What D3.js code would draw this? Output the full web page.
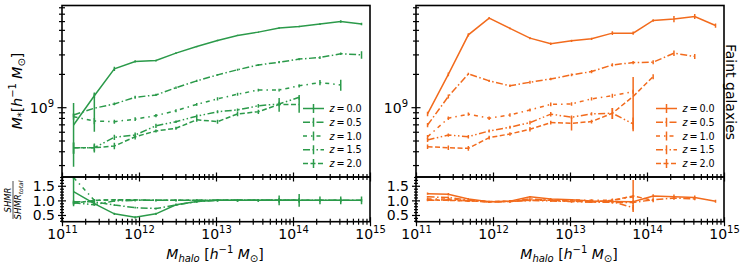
<!DOCTYPE html>
<html>
<head>
<meta charset="utf-8">
<script src="https://cdn.jsdelivr.net/npm/d3@7"></script>
<style>
  body { margin: 0; background: #fff; }
  text { font-family: 'DejaVu Sans', sans-serif; fill: #000; }
</style>
</head>
<body>
<svg id="chart" width="748" height="269"></svg>
<script>
// halo mass bin centres [h^-1 Msun]
var haloMass = [1.413e11, 2.630e11, 4.786e11, 8.913e11, 1.660e12, 3.020e12, 5.623e12, 1.047e13,
  1.905e13, 3.548e13, 6.607e13, 1.202e14, 2.239e14, 4.169e14, 7.762e14]
var redshifts = ['0.0', '0.5', '1.0', '1.5', '2.0']

// stellar mass [1e9 h^-1 Msun] - left panel (all galaxies)
var allZ00 = [0.69, 1.27, 2.22, 2.59, 2.64, 3.08, 3.53, 4.00, 4.45, 4.77, 5.19, 5.37, 5.64, 5.95, 5.64]
var allZ05 = [0.85, 0.98, 1.07, 1.23, 1.29, 1.50, 1.73, 1.96, 2.18, 2.41, 2.55, 2.72, 2.81, 3.04, 2.97]
var allZ10 = [0.82, 0.75, 0.74, 0.78, 0.84, 0.93, 1.06, 1.19, 1.31, 1.43, 1.43, 1.56, 1.67, 1.59]
var allZ15 = [0.43, 0.43, 0.535, 0.56, 0.68, 0.74, 0.83, 0.91, 0.945, 1.03, 1.07, 1.23]
var allZ20 = [0.43, 0.43, 0.446, 0.54, 0.61, 0.645, 0.77, 0.74, 0.87, 0.91, 1.06, 1.06]
var allErr00 = [0.40, 0.06, 0.10, 0.06, 0.05, 0.05, 0.05, 0.06, 0.06, 0.07, 0.08, 0.08, 0.10, 0.15, 0.15]
var allErr05 = [0.03, 0.38, 0.03, 0.04, 0.03, 0.04, 0.04, 0.04, 0.05, 0.05, 0.06, 0.06, 0.08, 0.08, 0.23]
var allErr10 = [0.05, 0.05, 0.03, 0.03, 0.03, 0.03, 0.03, 0.04, 0.04, 0.04, 0.04, 0.05, 0.09, 0.18]
var allErr15 = [0.05, 0.03, 0.03, 0.03, 0.03, 0.02, 0.03, 0.03, 0.03, 0.04, 0.05, 0.06]
var allErr20 = [0.05, 0.04, 0.03, 0.03, 0.02, 0.02, 0.03, 0.03, 0.04, 0.04, 0.15, 0.17]

// stellar mass [1e9 h^-1 Msun] - right panel (faint galaxies)
var faintZ00 = [0.87, 1.98, 4.51, 6.39, 5.16, 4.21, 3.74, 3.98, 4.15, 4.67, 4.67, 6.08, 6.26, 6.61, 5.47]
var faintZ05 = [0.69, 1.25, 2.00, 1.73, 1.56, 1.68, 1.80, 1.96, 2.10, 2.41, 2.53, 2.55, 3.08, 2.87]
var faintZ10 = [0.54, 0.795, 0.865, 0.795, 0.85, 0.945, 1.06, 1.07, 1.19, 1.27, 1.38]
var faintZ15 = [0.506, 0.56, 0.542, 0.61, 0.66, 0.726, 0.865, 0.812, 0.87, 0.882, 0.706]
var faintZ20 = [0.44, 0.43, 0.425, 0.531, 0.573, 0.632, 0.726, 0.716, 0.741, 0.882, 1.25, 1.89]
var faintErr00 = [0.04, 0.08, 0.15, 0.15, 0.10, 0.10, 0.10, 0.10, 0.10, 0.18, 0.15, 0.15, 0.40, 0.35, 0.25]
var faintErr05 = [0.03, 0.05, 0.05, 0.04, 0.04, 0.05, 0.05, 0.06, 0.07, 0.08, 0.09, 0.10, 0.18, 0.15]
var faintErr10 = [0.02, 0.03, 0.03, 0.03, 0.03, 0.03, 0.04, 0.04, 0.04, 0.05, 0.06]
var faintErr15 = [0.02, 0.02, 0.02, 0.02, 0.02, 0.03, 0.04, 0.03, 0.03, 0.10, 0.10]
var faintErr20 = [0.02, 0.02, 0.02, 0.02, 0.02, 0.03, 0.03, 0.10, 0.03, 0.10, 0.62, 0.10]

// SHMR / SHMR_total
var allRatio00 = [1.30, 0.89, 0.54, 0.42, 0.54, 0.85, 0.96, 1.0, 1.0, 1.0, 1.0, 1.0, 1.0, 1.0, 1.0]
var allRatio05 = [0.95, 0.95, 0.84, 0.75, 0.72, 0.84, 0.96, 1.0, 1.0, 1.0, 1.0, 1.0, 1.0, 1.0, 1.0]
var allRatio10 = [1.78, 1.0, 1.02, 1.0, 1.0, 1.0, 1.0, 1.0, 1.0, 1.0, 1.0, 1.0, 1.0, 1.0]
var allRatio15 = [0.92, 0.85, 0.98, 1.0, 1.0, 1.0, 1.0, 1.0, 1.0, 1.0, 1.0, 1.0]
var allRatio20 = [0.90, 1.0, 1.02, 1.02, 1.0, 1.0, 1.0, 1.0, 1.0, 1.0, 1.0, 1.0]
var allRatioErr00 = [0.50, 0.06, 0.04, 0.04, 0.04, 0.04, 0.04, 0.04, 0.05, 0.05, 0.17, 0.22, 0.13, 0.13, 0.13]
var allRatioErr05 = [0.05, 0.10, 0.03, 0.03, 0.03, 0.03, 0.03, 0.03, 0.03, 0.03, 0.03, 0.03, 0.03, 0.03, 0.05]
var allRatioErr10 = [0.05, 0.04, 0.03, 0.03, 0.03, 0.03, 0.03, 0.03, 0.03, 0.03, 0.03, 0.03, 0.04, 0.06]
var allRatioErr15 = [0.05, 0.03, 0.03, 0.03, 0.03, 0.03, 0.03, 0.03, 0.03, 0.03, 0.04, 0.04]
var allRatioErr20 = [0.05, 0.03, 0.03, 0.03, 0.03, 0.03, 0.03, 0.03, 0.03, 0.03, 0.08, 0.08]

var faintRatio00 = [1.23, 1.21, 1.05, 0.95, 0.97, 1.12, 1.05, 1.02, 0.98, 0.96, 0.95, 1.15, 1.12, 1.10, 0.97]
var faintRatio05 = [1.12, 1.10, 1.0, 0.95, 0.96, 1.05, 1.0, 0.97, 0.95, 0.93, 0.93, 1.02, 1.08, 1.05]
var faintRatio10 = [1.05, 1.05, 1.0, 0.95, 0.97, 1.0, 1.02, 1.02, 1.0, 1.0, 1.12]
var faintRatio15 = [1.0, 1.02, 0.98, 0.95, 0.96, 1.0, 0.98, 0.96, 0.94, 0.96, 0.75]
var faintRatio20 = [1.02, 1.0, 0.98, 0.96, 0.97, 1.0, 1.0, 0.98, 0.95, 1.0, 1.15, 1.0]
var faintRatioErr00 = [0.04, 0.04, 0.03, 0.03, 0.03, 0.03, 0.03, 0.03, 0.04, 0.04, 0.05, 0.06, 0.08, 0.07, 0.05]
var faintRatioErr05 = [0.03, 0.03, 0.03, 0.03, 0.03, 0.03, 0.03, 0.03, 0.03, 0.04, 0.05, 0.05, 0.06, 0.05]
var faintRatioErr10 = [0.03, 0.03, 0.03, 0.03, 0.03, 0.03, 0.03, 0.03, 0.03, 0.04, 0.06]
var faintRatioErr15 = [0.03, 0.03, 0.03, 0.03, 0.03, 0.03, 0.03, 0.03, 0.03, 0.06, 0.10]
var faintRatioErr20 = [0.03, 0.03, 0.03, 0.03, 0.03, 0.03, 0.03, 0.05, 0.03, 0.06, 0.55, 0.06]

// ticks
var xMajorTicks = [1e11, 1e12, 1e13, 1e14, 1e15]
var xTickExponents = ['11', '12', '13', '14', '15']
var yTopMajorTicks = [1e9]
var yBotMajorTicks = [0.5, 1.0, 1.5]
var yBotTickLabels = ['0.5', '1.0', '1.5']

// layout
var topY0 = 5.5, topY1 = 177, botY1 = 221.7
var panels = [
  { x0: 62, x1: 370, color: '#2b9a4a',
    mstar: [allZ00, allZ05, allZ10, allZ15, allZ20],
    mstarErr: [allErr00, allErr05, allErr10, allErr15, allErr20],
    ratio: [allRatio00, allRatio05, allRatio10, allRatio15, allRatio20],
    ratioErr: [allRatioErr00, allRatioErr05, allRatioErr10, allRatioErr15, allRatioErr20],
    legendX: 303 },
  { x0: 416, x1: 724, color: '#f26b1d',
    mstar: [faintZ00, faintZ05, faintZ10, faintZ15, faintZ20],
    mstarErr: [faintErr00, faintErr05, faintErr10, faintErr15, faintErr20],
    ratio: [faintRatio00, faintRatio05, faintRatio10, faintRatio15, faintRatio20],
    ratioErr: [faintRatioErr00, faintRatioErr05, faintRatioErr10, faintRatioErr15, faintRatioErr20],
    legendX: 656 }
]
var dashes = [null, '7,2.5,1.5,2.5', '4,4,1.5,4', '7,2.5,1.5,2.5,1.5,2.5', '5,2.5']

var svg = d3.select('#chart')
var yTop = d3.scaleLog().domain([2.34e8, 8.3e9]).range([topY1, topY0])
var yBot = d3.scaleLinear().domain([0.27, 1.8]).range([botY1, topY1])

var xMinorTicks = []
for (var e = 11; e < 15; e++) for (var m = 2; m <= 9; m++) xMinorTicks.push(m * Math.pow(10, e))
var yTopMinorTicks = [3e8, 4e8, 5e8, 6e8, 7e8, 8e8, 9e8, 2e9, 3e9, 4e9, 5e9, 6e9, 7e9, 8e9]
var yBotMinorTicks = d3.range(3, 19).map(function (v) { return v / 10 })
  .filter(function (v) { return yBotMajorTicks.indexOf(v) < 0 })

function inout (sel, len, orient) {
  sel.select('.domain').remove()
  var lines = sel.selectAll('.tick line').attr('stroke', '#000').attr('stroke-width', 1.2)
  if (orient === 'bottom') lines.attr('y1', -len / 2).attr('y2', len / 2)
  else lines.attr('x1', len / 2).attr('x2', -len / 2)
}

function supLabel (text, base, exp) {
  text.text(null)
  text.append('tspan').text(base)
  text.append('tspan').attr('font-size', 10).attr('dy', -6).text(exp)
}

var blank = function () { return '' }

panels.forEach(function (p, pi) {
  var x = d3.scaleLog().domain([1e11, 1e15]).range([p.x0, p.x1])
  var g = svg.append('g')

  g.append('clipPath').attr('id', 'clipTop' + pi).append('rect')
    .attr('x', p.x0).attr('y', topY0).attr('width', p.x1 - p.x0).attr('height', topY1 - topY0)
  g.append('clipPath').attr('id', 'clipBot' + pi).append('rect')
    .attr('x', p.x0).attr('y', topY1).attr('width', p.x1 - p.x0).attr('height', botY1 - topY1)

  var top = g.append('g').attr('clip-path', 'url(#clipTop' + pi + ')')
  var bot = g.append('g').attr('clip-path', 'url(#clipBot' + pi + ')')

  var lineTop = d3.line()
    .x(function (d, i) { return x(haloMass[i]) })
    .y(function (d) { return yTop(d * 1e9) })
  var lineBot = d3.line()
    .x(function (d, i) { return x(haloMass[i]) })
    .y(function (d) { return yBot(d) })

  p.mstar.forEach(function (s, si) {
    top.append('path').datum(s).attr('d', lineTop)
      .attr('fill', 'none').attr('stroke', p.color).attr('stroke-width', 1.5)
      .attr('stroke-dasharray', dashes[si])
    top.selectAll('.eb' + si).data(s).enter().append('line')
      .attr('x1', function (d, i) { return x(haloMass[i]) })
      .attr('x2', function (d, i) { return x(haloMass[i]) })
      .attr('y1', function (d, i) {
        var lo = d - p.mstarErr[si][i]
        return lo > 0 ? yTop(lo * 1e9) : topY1 + 5
      })
      .attr('y2', function (d, i) { return yTop((d + p.mstarErr[si][i]) * 1e9) })
      .attr('stroke', p.color).attr('stroke-width', 1.5)

    bot.append('path').datum(p.ratio[si]).attr('d', lineBot)
      .attr('fill', 'none').attr('stroke', p.color).attr('stroke-width', 1.5)
      .attr('stroke-dasharray', dashes[si])
    bot.selectAll('.rb' + si).data(p.ratio[si]).enter().append('line')
      .attr('x1', function (d, i) { return x(haloMass[i]) })
      .attr('x2', function (d, i) { return x(haloMass[i]) })
      .attr('y1', function (d, i) { return yBot(d - p.ratioErr[si][i]) })
      .attr('y2', function (d, i) { return yBot(d + p.ratioErr[si][i]) })
      .attr('stroke', p.color).attr('stroke-width', 1.5)
  })

  // frames
  g.append('rect').attr('x', p.x0).attr('y', topY0).attr('width', p.x1 - p.x0).attr('height', topY1 - topY0)
    .attr('fill', 'none').attr('stroke', '#000').attr('stroke-width', 1.6)
  g.append('rect').attr('x', p.x0).attr('y', topY1).attr('width', p.x1 - p.x0).attr('height', botY1 - topY1)
    .attr('fill', 'none').attr('stroke', '#000').attr('stroke-width', 1.6)

  // x ticks
  ;[topY1, botY1].forEach(function (yy, k) {
    g.append('g').attr('transform', 'translate(0,' + yy + ')')
      .call(d3.axisBottom(x).tickValues(xMinorTicks).tickSize(6).tickFormat(blank))
      .call(inout, 6, 'bottom')
    var gm = g.append('g').attr('transform', 'translate(0,' + yy + ')')
      .call(d3.axisBottom(x).tickValues(xMajorTicks).tickSize(9).tickFormat(blank))
      .call(inout, 9, 'bottom')
    if (k === 0) gm.selectAll('.tick text').remove()
    else {
      gm.selectAll('.tick text').attr('y', 17.5).attr('dy', null)
        .attr('font-size', 14).attr('font-family', 'DejaVu Sans').attr('fill', '#000')
        .each(function (d, i) { supLabel(d3.select(this), '10', xTickExponents[i]) })
    }
  })

  // y ticks, top panel
  g.append('g').attr('transform', 'translate(' + p.x0 + ',0)')
    .call(d3.axisLeft(yTop).tickValues(yTopMinorTicks).tickSize(6).tickFormat(blank))
    .call(inout, 6, 'left')
  g.append('g').attr('transform', 'translate(' + p.x0 + ',0)')
    .call(d3.axisLeft(yTop).tickValues(yTopMajorTicks).tickSize(9).tickFormat(blank))
    .call(inout, 9, 'left')
    .selectAll('.tick text').attr('x', -8).attr('y', 5).attr('dy', null)
    .attr('font-size', 14).attr('font-family', 'DejaVu Sans').attr('fill', '#000')
    .each(function () { supLabel(d3.select(this), '10', '9') })

  // y ticks, ratio panel
  g.append('g').attr('transform', 'translate(' + p.x0 + ',0)')
    .call(d3.axisLeft(yBot).tickValues(yBotMinorTicks).tickSize(4).tickFormat(blank))
    .call(inout, 4, 'left')
  g.append('g').attr('transform', 'translate(' + p.x0 + ',0)')
    .call(d3.axisLeft(yBot).tickValues(yBotMajorTicks).tickSize(8)
      .tickFormat(function (d, i) { return yBotTickLabels[i] }))
    .call(inout, 8, 'left')
    .selectAll('.tick text').attr('x', -7).attr('y', 5).attr('dy', null)
    .attr('font-size', 14).attr('font-family', 'DejaVu Sans').attr('fill', '#000')

  // legend
  var leg = g.append('g')
  redshifts.forEach(function (z, si) {
    var yy = 108.5 + si * 13.75
    leg.append('line').attr('x1', p.legendX).attr('x2', p.legendX + 21).attr('y1', yy).attr('y2', yy)
      .attr('stroke', p.color).attr('stroke-width', 1.5).attr('stroke-dasharray', dashes[si])
    leg.append('line').attr('x1', p.legendX + 10.5).attr('x2', p.legendX + 10.5)
      .attr('y1', yy - 4.5).attr('y2', yy + 4.5)
      .attr('stroke', p.color).attr('stroke-width', 1.5)
    var t = leg.append('text').attr('x', p.legendX + 26.5).attr('y', yy + 3.5).attr('font-size', 9.6)
    t.append('tspan').attr('font-style', 'italic').text('z')
    t.append('tspan').text('\u2009=\u2009' + z)
  })

  // x label
  var xl = g.append('text').attr('x', (p.x0 + p.x1) / 2 - 1).attr('y', 259)
    .attr('text-anchor', 'middle').attr('font-size', 14)
  xl.append('tspan').attr('font-style', 'italic').text('M')
  xl.append('tspan').attr('font-style', 'italic').attr('font-size', 10).attr('dy', 3).text('halo')
  xl.append('tspan').attr('dy', -3).text(' [')
  xl.append('tspan').attr('font-style', 'italic').text('h')
  xl.append('tspan').attr('font-size', 10).attr('dy', -6).text('\u22121')
  xl.append('tspan').attr('dy', 6).text(' ')
  xl.append('tspan').attr('font-style', 'italic').text('M')
  xl.append('tspan').attr('font-size', 10).attr('dy', 3).text('\u2299')
  xl.append('tspan').attr('dy', -3).text(']')
})

// y label, top
var yl = svg.append('text').attr('transform', 'translate(22,91) rotate(-90)')
  .attr('text-anchor', 'middle').attr('font-size', 14)
yl.append('tspan').attr('font-style', 'italic').text('M')
yl.append('tspan').attr('font-size', 10).attr('dy', 3).text('*')
yl.append('tspan').attr('dy', -3).text('[')
yl.append('tspan').attr('font-style', 'italic').text('h')
yl.append('tspan').attr('font-size', 10).attr('dy', -6).text('\u22121')
yl.append('tspan').attr('dy', 6).text(' ')
yl.append('tspan').attr('font-style', 'italic').text('M')
yl.append('tspan').attr('font-size', 10).attr('dy', 3).text('\u2299')
yl.append('tspan').attr('dy', -3).text(']')

// y label, ratio (fraction)
var fr = svg.append('g').attr('transform', 'translate(13,200) rotate(-90)')
fr.append('text').attr('x', 0).attr('y', -2).attr('text-anchor', 'middle')
  .attr('font-size', 8.5).attr('font-style', 'italic').text('SHMR')
fr.append('line').attr('x1', -19).attr('x2', 19).attr('y1', 0).attr('y2', 0)
  .attr('stroke', '#000').attr('stroke-width', 0.7)
var den = fr.append('text').attr('x', 0).attr('y', 8.2).attr('text-anchor', 'middle')
  .attr('font-size', 8.5).attr('font-style', 'italic')
den.append('tspan').text('SHMR')
den.append('tspan').attr('font-size', 6).attr('dy', 1.8).text('total')

// side label
svg.append('text').attr('transform', 'translate(725.5,92) rotate(90)')
  .attr('text-anchor', 'middle').attr('font-size', 14).text('Faint galaxies')
</script>
</body>
</html>
